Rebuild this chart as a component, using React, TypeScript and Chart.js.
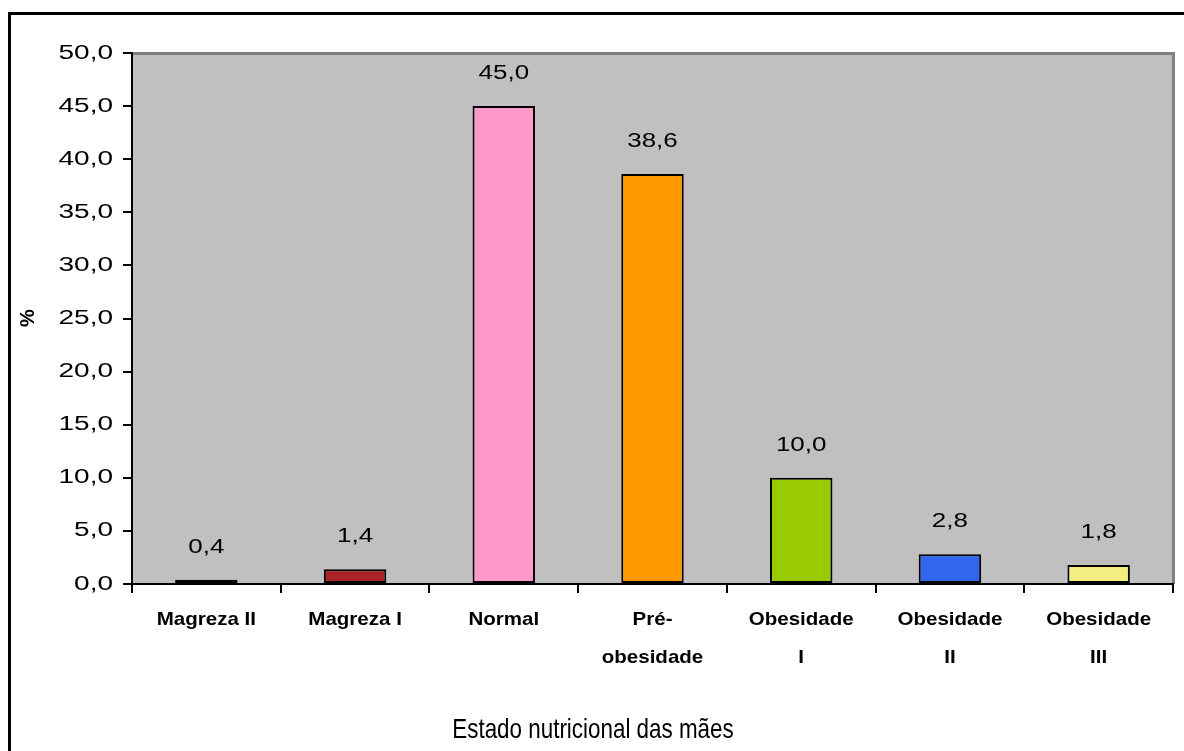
import React, { useEffect, useRef } from "react";
import { Chart, registerables } from "chart.js";

Chart.register(...registerables);

const categories: string[][] = [
  ["Magreza II"],
  ["Magreza I"],
  ["Normal"],
  ["Pré-", "obesidade"],
  ["Obesidade", "I"],
  ["Obesidade", "II"],
  ["Obesidade", "III"],
];
const values: number[] = [0.4, 1.4, 45.0, 38.6, 10.0, 2.8, 1.8];
const barColors: string[] = ["#111111", "#AA2424", "#FF99CC", "#FF9900", "#99CC00", "#3366EE", "#F2EE80"];
const yTickValues: number[] = [0, 5, 10, 15, 20, 25, 30, 35, 40, 45, 50];
const yTickLabels: string[] = ["0,0", "5,0", "10,0", "15,0", "20,0", "25,0", "30,0", "35,0", "40,0", "45,0", "50,0"];
const dataLabels: string[] = ["0,4", "1,4", "45,0", "38,6", "10,0", "2,8", "1,8"];
const yTitle = "%";
const xTitle = "Estado nutricional das mães";

const FONT = '"Liberation Sans", Arial, sans-serif';

function stretchText(
  ctx: CanvasRenderingContext2D,
  text: string,
  x: number,
  y: number,
  align: CanvasTextAlign,
  baseline: CanvasTextBaseline,
  size: number,
  scaleX: number,
  weight: string = "normal"
) {
  ctx.save();
  ctx.font = `${weight} ${size}px ${FONT}`;
  ctx.fillStyle = "#000000";
  ctx.translate(x, y);
  ctx.scale(scaleX, 1);
  ctx.textAlign = align;
  ctx.textBaseline = baseline;
  ctx.fillText(text, 0, 0);
  ctx.restore();
}

const backgroundPlugin = {
  id: "bgFrame",
  beforeDraw(chart: any) {
    const { ctx, chartArea } = chart;
    ctx.save();
    ctx.fillStyle = "#FFFFFF";
    ctx.fillRect(0, 0, chart.width, chart.height);
    // outer frame
    ctx.fillStyle = "#000000";
    ctx.fillRect(8, 12, chart.width - 8, 3);
    ctx.fillRect(8, 12, 3, chart.height - 12);
    // plot area
    ctx.fillStyle = "#C0C0C0";
    ctx.fillRect(chartArea.left, chartArea.top, chartArea.right - chartArea.left, chartArea.bottom - chartArea.top);
    ctx.fillStyle = "#808080";
    ctx.fillRect(chartArea.left, chartArea.top - 1, chartArea.right - chartArea.left + 2, 3);
    ctx.fillRect(chartArea.right - 1, chartArea.top - 1, 3, chartArea.bottom - chartArea.top + 1);
    ctx.restore();
  },
};

const textPlugin = {
  id: "texts",
  afterDraw(chart: any) {
    const { ctx } = chart;
    const xs = chart.scales.x;
    const ys = chart.scales.y;
    // y tick labels
    yTickValues.forEach((v, i) => {
      const y = ys.getPixelForValue(v);
      stretchText(ctx, yTickLabels[i], 113, y, "right", "middle", 20, 1.4);
    });
    // x tick labels
    categories.forEach((lines, i) => {
      const x = xs.getPixelForValue(i);
      lines.forEach((line, j) => {
        stretchText(ctx, line, x, 625 + j * 38, "center", "alphabetic", 19, 1.08, "bold");
      });
    });
    // data labels
    const meta = chart.getDatasetMeta(0);
    meta.data.forEach((bar: any, i: number) => {
      stretchText(ctx, dataLabels[i], bar.x, bar.y - 27, "center", "alphabetic", 20, 1.3);
    });
    // axis titles
    stretchText(ctx, xTitle, 593, 738, "center", "alphabetic", 28, 0.8);
    ctx.save();
    ctx.translate(28, 318);
    ctx.rotate(-Math.PI / 2);
    stretchText(ctx, yTitle, 0, 0, "center", "middle", 20, 1.0, "bold");
    ctx.restore();
  },
};

export default function App() {
  const canvasRef = useRef<HTMLCanvasElement | null>(null);

  useEffect(() => {
    document.body.style.margin = "0";
    const canvas = canvasRef.current;
    if (!canvas) return;
    const chart = new Chart(canvas, {
      type: "bar",
      data: {
        labels: categories.map((c) => c.join(" ")),
        datasets: [
          {
            data: values,
            backgroundColor: barColors,
            borderColor: "#000000",
            borderWidth: 2,
            borderSkipped: false,
            barPercentage: 0.42,
            categoryPercentage: 1.0,
          },
        ],
      },
      options: {
        responsive: false,
        animation: false,
        devicePixelRatio: 1,
        layout: { padding: { top: 53, right: 11, left: 0, bottom: 0 } },
        plugins: {
          legend: { display: false },
          tooltip: { enabled: false },
          title: { display: false },
        },
        scales: {
          x: {
            offset: true,
            grid: {
              offset: true,
              drawOnChartArea: false,
              drawTicks: true,
              tickLength: 9,
              color: "#000000",
              lineWidth: 2,
            },
            border: { display: true, color: "#000000", width: 2 },
            ticks: { display: false },
            afterFit(scale: any) {
              scale.height = 751 - 584;
            },
          },
          y: {
            min: 0,
            max: 50,
            ticks: { display: false, stepSize: 5 },
            grid: {
              drawOnChartArea: false,
              drawTicks: true,
              tickLength: 9,
              color: "#000000",
              lineWidth: 2,
            },
            border: { display: true, color: "#000000", width: 2 },
            afterFit(scale: any) {
              scale.width = 132;
            },
          },
        },
      },
      plugins: [backgroundPlugin, textPlugin],
    });
    return () => chart.destroy();
  }, []);

  return (
    <div style={{ position: "fixed", left: 0, top: 0, width: 1184, height: 751 }}>
      <canvas ref={canvasRef} width={1184} height={751} style={{ width: 1184, height: 751, display: "block" }} />
    </div>
  );
}
